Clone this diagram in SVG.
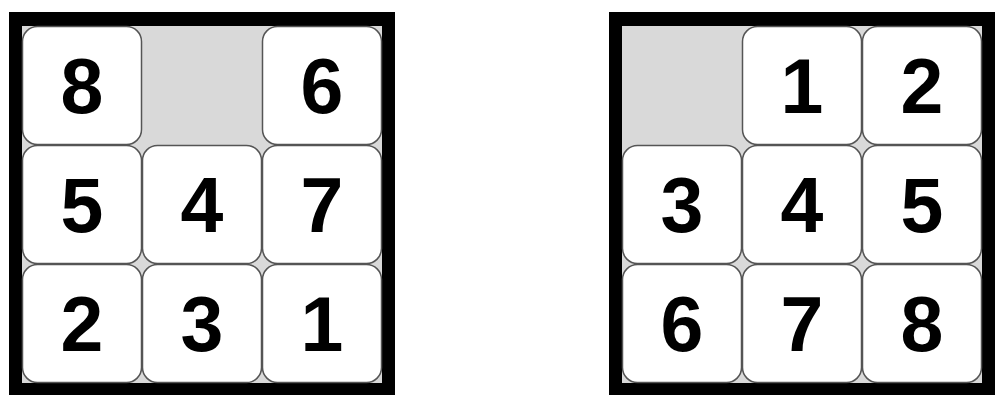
<svg xmlns="http://www.w3.org/2000/svg" width="1002" height="402" viewBox="0 0 1002 402">
<style>
.frame{fill:#000}
.bg{fill:#d9d9d9}
.tile{fill:#fff;stroke:#555;stroke-width:1.5}
.num{font-family:"Liberation Sans",Arial,sans-serif;font-weight:bold;font-size:77px;fill:#000;text-anchor:middle}
</style>
<rect width="1002" height="402" fill="#fff"/>
<g id="board-start">
<rect class="frame" x="9" y="12" width="386" height="383"/>
<rect class="bg" x="22" y="26" width="360" height="357"/>
<g id="s-8"><rect class="tile" x="22.5" y="26.5" width="119" height="118" rx="15"/><text class="num" x="82" y="113">8</text></g>
<g id="s-6"><rect class="tile" x="262.5" y="26.5" width="119" height="118" rx="15"/><text class="num" x="322" y="113">6</text></g>
<g id="s-5"><rect class="tile" x="22.5" y="145.5" width="119" height="118" rx="15"/><text class="num" x="82" y="232">5</text></g>
<g id="s-4"><rect class="tile" x="142.5" y="145.5" width="119" height="118" rx="15"/><text class="num" x="202" y="232">4</text></g>
<g id="s-7"><rect class="tile" x="262.5" y="145.5" width="119" height="118" rx="15"/><text class="num" x="322" y="232">7</text></g>
<g id="s-2"><rect class="tile" x="22.5" y="264.5" width="119" height="118" rx="15"/><text class="num" x="82" y="351">2</text></g>
<g id="s-3"><rect class="tile" x="142.5" y="264.5" width="119" height="118" rx="15"/><text class="num" x="202" y="351">3</text></g>
<g id="s-1"><rect class="tile" x="262.5" y="264.5" width="119" height="118" rx="15"/><text class="num" x="322" y="351">1</text></g>
</g>
<g id="board-goal">
<rect class="frame" x="609" y="12" width="386" height="383"/>
<rect class="bg" x="622" y="26" width="360" height="357"/>
<g id="g-1"><rect class="tile" x="742.5" y="26.5" width="119" height="118" rx="15"/><text class="num" x="802" y="113">1</text></g>
<g id="g-2"><rect class="tile" x="862.5" y="26.5" width="119" height="118" rx="15"/><text class="num" x="922" y="113">2</text></g>
<g id="g-3"><rect class="tile" x="622.5" y="145.5" width="119" height="118" rx="15"/><text class="num" x="682" y="232">3</text></g>
<g id="g-4"><rect class="tile" x="742.5" y="145.5" width="119" height="118" rx="15"/><text class="num" x="802" y="232">4</text></g>
<g id="g-5"><rect class="tile" x="862.5" y="145.5" width="119" height="118" rx="15"/><text class="num" x="922" y="232">5</text></g>
<g id="g-6"><rect class="tile" x="622.5" y="264.5" width="119" height="118" rx="15"/><text class="num" x="682" y="351">6</text></g>
<g id="g-7"><rect class="tile" x="742.5" y="264.5" width="119" height="118" rx="15"/><text class="num" x="802" y="351">7</text></g>
<g id="g-8"><rect class="tile" x="862.5" y="264.5" width="119" height="118" rx="15"/><text class="num" x="922" y="351">8</text></g>
</g>
<g id="connectors"/>
</svg>
